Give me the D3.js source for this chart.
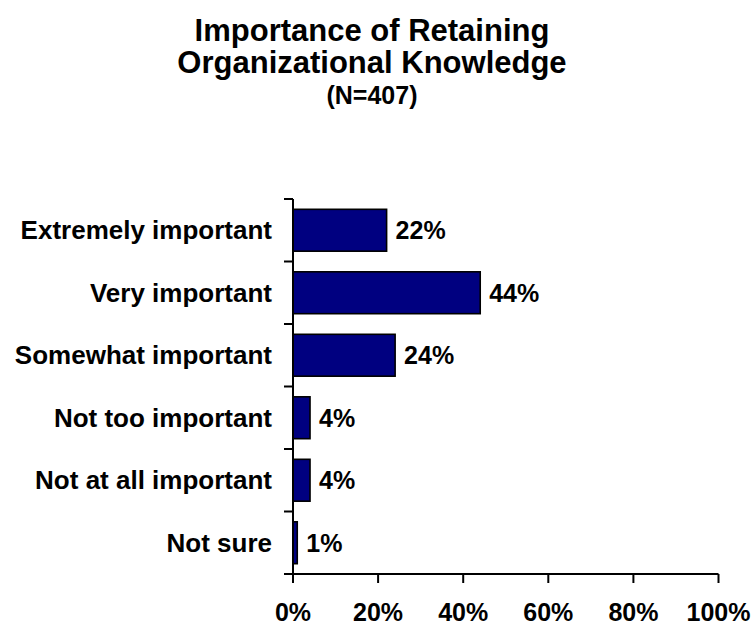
<!DOCTYPE html>
<html>
<head>
<meta charset="utf-8">
<script src="https://cdn.jsdelivr.net/npm/d3@7"></script>
<style>
  html, body { margin: 0; padding: 0; background: #fff; }
  svg { display: block; }
  text { font-family: Arial, "Liberation Sans", Helvetica, sans-serif; font-weight: bold; fill: #000; }
</style>
</head>
<body>
<svg id="chart" width="755" height="626"></svg>
<script>
const titleLines = ["Importance of Retaining", "Organizational Knowledge", "(N=407)"];
const categories = ["Extremely important", "Very important", "Somewhat important", "Not too important", "Not at all important", "Not sure"];
const values = [22, 44, 24, 4, 4, 1];
const tickValues = [0, 20, 40, 60, 80, 100];
const tickLabels = ["0%", "20%", "40%", "60%", "80%", "100%"];

const svg = d3.select("#chart");

function addText(g, x, y, str, size, anchor) {
  return g.append("text")
    .attr("x", x).attr("y", y)
    .attr("text-anchor", anchor)
    .style("font-size", size + "px")
    .text(str);
}

// Title
const titleSizes = [31, 31, 25];
const titleY = [41, 73, 104];
titleLines.forEach((t, i) => addText(svg, 372, titleY[i], t, titleSizes[i], "middle"));

const x = d3.scaleLinear().domain([0, 100]).range([293, 718.5]);
const y = d3.scaleBand().domain(categories).range([199, 574]).paddingInner(0.33).paddingOuter(0.165);
const step = y.step();

// Bars
svg.append("g").selectAll("rect").data(categories).join("rect")
  .attr("x", x(0))
  .attr("y", d => y(d))
  .attr("width", (d, i) => x(values[i]) - x(0))
  .attr("height", y.bandwidth())
  .attr("fill", "#000080")
  .attr("stroke", "#000")
  .attr("stroke-width", 1.6);

// Y axis (ticks at band boundaries)
const yTicks = d3.range(categories.length + 1).map(i => 199 + i * step);
const axG = svg.append("g").attr("stroke", "#000").attr("stroke-width", 2);
axG.append("line").attr("x1", x(0)).attr("x2", x(0)).attr("y1", 199).attr("y2", 574);
axG.selectAll(".yt").data(yTicks).join("line").attr("class", "yt")
  .attr("x1", x(0) - 9).attr("x2", x(0)).attr("y1", d => d).attr("y2", d => d);

// X axis
axG.append("line").attr("x1", x(0) - 9).attr("x2", x(100)).attr("y1", 574).attr("y2", 574);
axG.selectAll(".xt").data(tickValues).join("line").attr("class", "xt")
  .attr("x1", d => x(d)).attr("x2", d => x(d)).attr("y1", 574).attr("y2", 583);

// Tick labels
tickValues.forEach((v, i) => addText(svg, x(v), 621, tickLabels[i], 25, "middle"));

// Category labels
categories.forEach(c => addText(svg, 272, y(c) + y.bandwidth() / 2 + 9, c, 26, "end"));

// Value labels
categories.forEach((c, i) => addText(svg, x(values[i]) + 9, y(c) + y.bandwidth() / 2 + 9, values[i] + "%", 25, "start"));
</script>
</body>
</html>
